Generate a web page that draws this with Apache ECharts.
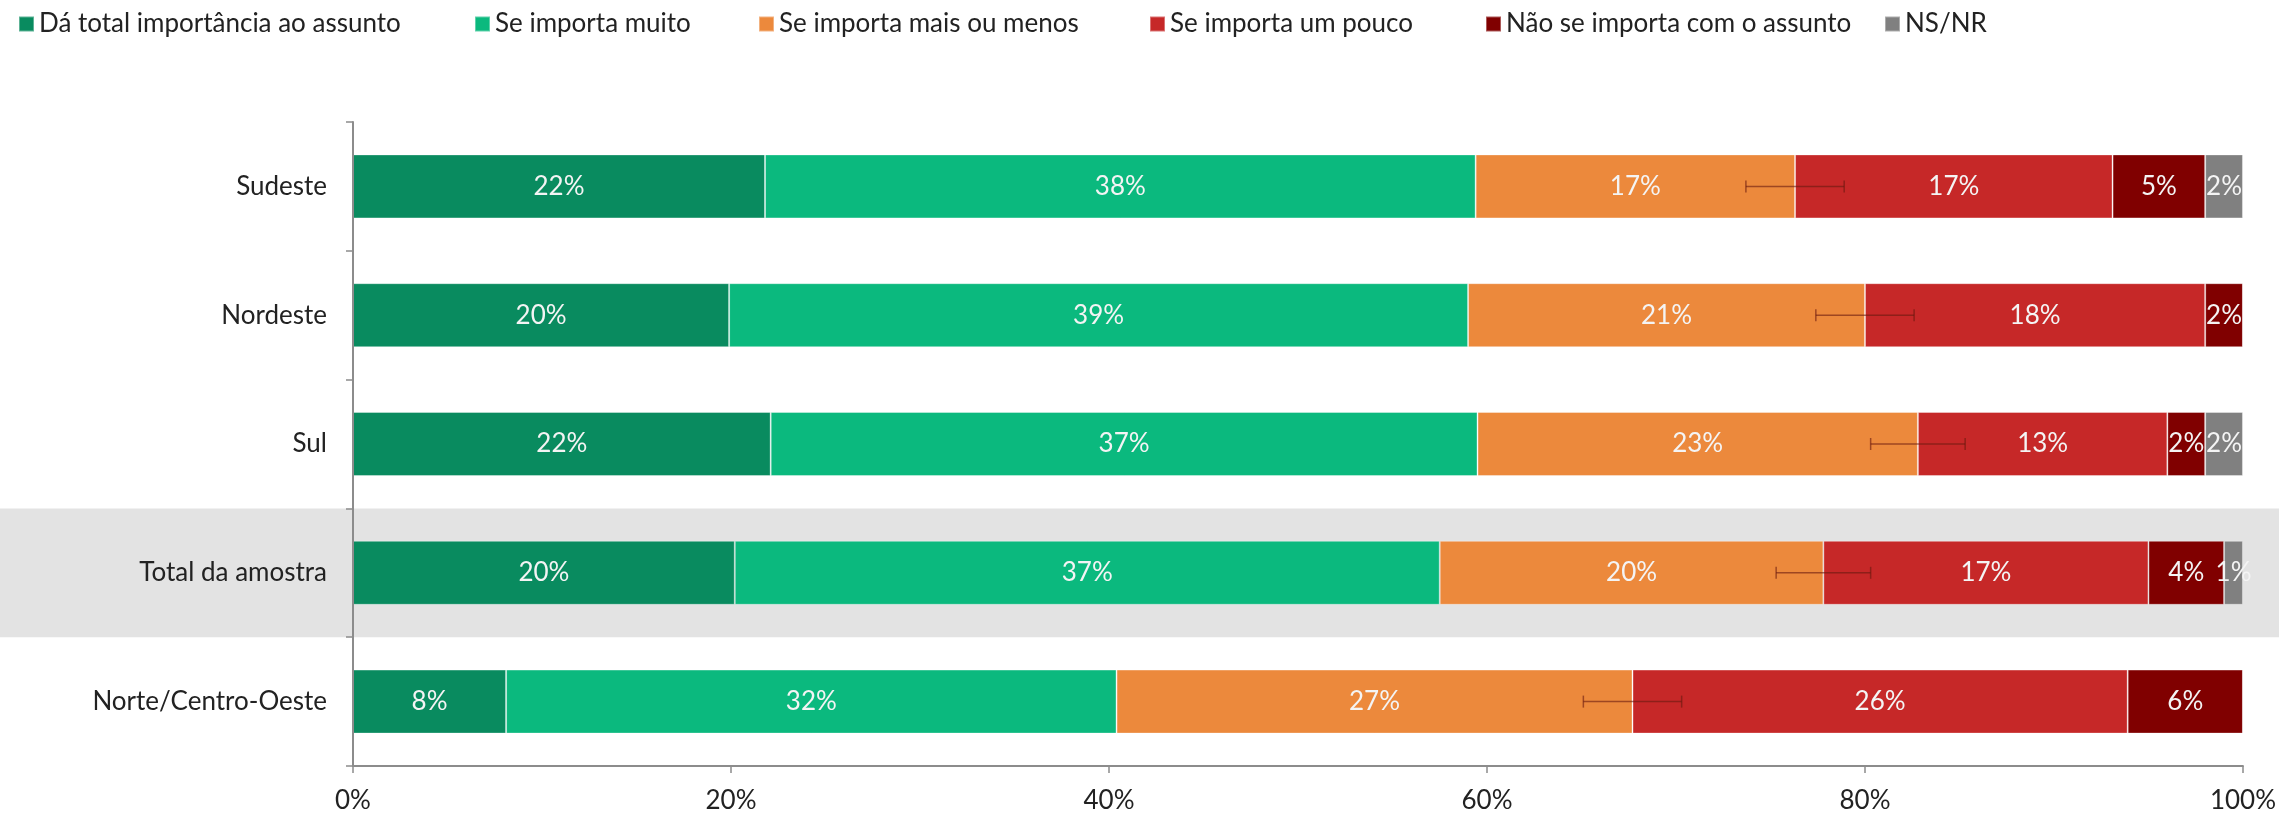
<!DOCTYPE html>
<html>
<head>
<meta charset="utf-8">
<script src="https://cdn.jsdelivr.net/npm/echarts@6/dist/echarts.min.js"></script>
<style>
  html, body { margin: 0; padding: 0; background: #fff; }
  #chart { width: 2279px; height: 816px; }
</style>
</head>
<body>
<div id="chart"></div>
<script>
  // categorias (de cima para baixo)
  var categories = ['Sudeste', 'Nordeste', 'Sul', 'Total da amostra', 'Norte/Centro-Oeste']
  var seriesNames = ['Dá total importância ao assunto', 'Se importa muito', 'Se importa mais ou menos',
    'Se importa um pouco', 'Não se importa com o assunto', 'NS/NR']
  var totalImportancia = [21.8, 19.9, 22.1, 20.2, 8.1]
  var importaMuito = [37.6, 39.1, 37.4, 37.3, 32.3]
  var maisOuMenos = [16.9, 21.0, 23.3, 20.3, 27.3]
  var umPouco = [16.8, 18.0, 13.2, 17.2, 26.2]
  var naoImporta = [4.9, 2.0, 2.0, 4.0, 6.1]
  var nsnr = [2.0, 0, 2.0, 1.0, 0]
  var margemErro = [2.6, 2.6, 2.5, 2.5, 2.6] // +/- em pontos percentuais
  var xTicks = ['0%', '20%', '40%', '60%', '80%', '100%']
  var destaque = 'Total da amostra'

  var colors = ['#098b5f', '#0bb97e', '#ec893c', '#c62828', '#800000', '#808080']
  var legendLeft = [13, 469, 753, 1144, 1480, 1879]
  var fontFamily = 'Lato, "Noto Sans", sans-serif'
  var fontSize = 26

  var myChart = echarts.init(document.getElementById('chart'))
  var allData = [totalImportancia, importaMuito, maisOuMenos, umPouco, naoImporta, nsnr]

  var barSeries = seriesNames.map(function (name, k) {
    return {
      name: name,
      type: 'bar',
      stack: 'total',
      data: allData[k],
      barWidth: 64,
      z: 2,
      itemStyle: {
        color: colors[k],
        borderColor: 'rgba(255,255,255,0.35)',
        borderWidth: 1
      },
      label: {
        show: true,
        position: 'inside',
        color: '#f4f4f4',
        fontSize: fontSize,
        fontFamily: fontFamily,
        formatter: function (p) {
          return p.value > 0 ? Math.round(p.value) + '%' : ''
        }
      }
    }
  })

  // barras de erro no fim do segmento "mais ou menos"
  var errData = categories.map(function (c, i) {
    var centro = totalImportancia[i] + importaMuito[i] + maisOuMenos[i]
    return [centro - margemErro[i], centro + margemErro[i], i]
  })

  var option = {
    animation: false,
    backgroundColor: '#fff',
    legend: seriesNames.map(function (name, k) {
      return {
        data: [name],
        left: legendLeft[k],
        top: 6,
        icon: 'rect',
        itemWidth: 15,
        itemHeight: 15,
        itemGap: 6,
        textStyle: { fontSize: fontSize, color: '#222', fontFamily: fontFamily }
      }
    }),
    grid: { left: 353, right: 36, top: 122, bottom: 50, containLabel: false },
    xAxis: {
      type: 'value',
      min: 0,
      max: 100,
      interval: 20,
      z: 5,
      axisLine: { show: true, lineStyle: { color: '#8c8c8c', width: 2 } },
      axisTick: { show: true, length: 7, lineStyle: { color: '#8c8c8c', width: 1.5 } },
      splitLine: { show: false },
      axisLabel: {
        margin: 22,
        fontSize: fontSize,
        color: '#222',
        fontFamily: fontFamily,
        formatter: function (v) { return xTicks[Math.round(v / 20)] }
      }
    },
    yAxis: {
      type: 'category',
      data: categories,
      inverse: true,
      z: 5,
      axisLine: { show: true, lineStyle: { color: '#8c8c8c', width: 2 } },
      axisTick: { show: true, length: 7, lineStyle: { color: '#8c8c8c', width: 1.5 } },
      axisLabel: { margin: 26, fontSize: fontSize, color: '#222', fontFamily: fontFamily }
    },
    series: [
      {
        // faixa cinza de destaque
        type: 'custom',
        z: 1,
        silent: true,
        encode: { x: 0, y: 1 },
        data: [[0, destaque]],
        renderItem: function (params, api) {
          var p = api.coord([0, api.value(1)])
          var band = api.size([0, 1])[1]
          return {
            type: 'rect',
            shape: { x: 0, y: p[1] - band / 2, width: api.getWidth(), height: band },
            style: { fill: '#e3e3e3' }
          }
        }
      }
    ].concat(barSeries).concat([
      {
        type: 'custom',
        z: 4,
        silent: true,
        encode: { x: [0, 1], y: 2 },
        data: errData,
        renderItem: function (params, api) {
          var cat = api.value(2)
          var p1 = api.coord([api.value(0), cat])
          var p2 = api.coord([api.value(1), cat])
          var h = 12
          var style = { stroke: 'rgba(105,25,15,0.6)', lineWidth: 1.5 }
          return {
            type: 'group',
            children: [
              { type: 'line', shape: { x1: p1[0], y1: p1[1], x2: p2[0], y2: p2[1] }, style: style },
              { type: 'line', shape: { x1: p1[0], y1: p1[1] - h / 2, x2: p1[0], y2: p1[1] + h / 2 }, style: style },
              { type: 'line', shape: { x1: p2[0], y1: p2[1] - h / 2, x2: p2[0], y2: p2[1] + h / 2 }, style: style }
            ]
          }
        }
      }
    ])
  }
  myChart.setOption(option)
</script>
</body>
</html>
